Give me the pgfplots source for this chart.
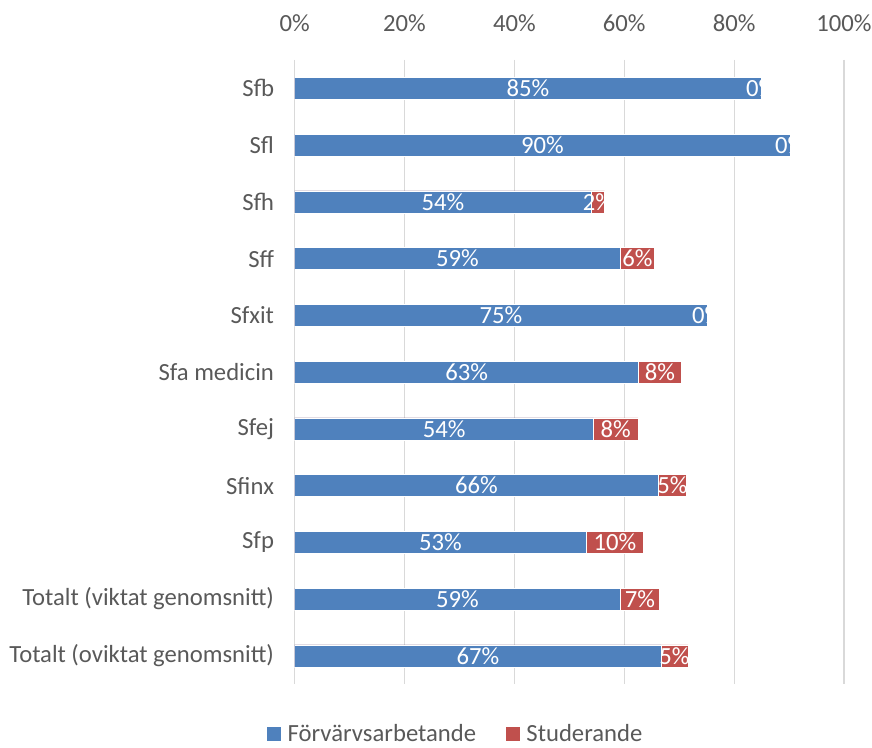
\documentclass[border=0pt]{standalone}
\usepackage{pgfplots}
\pgfplotsset{compat=1.18}
\usepackage{pgfplotstable}
\usepackage{fontspec}
\setmainfont{Carlito}
\definecolor{bl}{HTML}{4F81BD}
\definecolor{rd}{HTML}{C0504D}
\definecolor{gr}{HTML}{D9D9D9}
\definecolor{tx}{HTML}{595959}
\pgfplotstableread{
y b r
0 84.9 0
1 90.2 0
2 54.0 2.4
3 59.3 6.2
4 75.1 0
5 62.6 7.8
6 54.4 8.1
7 66.2 5.1
8 53.1 10.4
9 59.3 7.1
10 66.7 4.9
}\data
\newcommand{\lblfont}{\fontsize{24.7}{29}\selectfont}
\begin{document}
\begin{tikzpicture}
\begin{axis}[
  scale only axis, width=550pt, height=625pt,
  xmin=0, xmax=100, ymin=-0.5, ymax=10.5, y dir=reverse,
  xtick={0,20,40,60,80,100},
  xticklabel={\pgfmathprintnumber{\tick}\%},
  xticklabel pos=upper,
  ytick={0,...,10},
  yticklabels={Sfb,Sfl,Sfh,Sff,Sfxit,Sfa medicin,Sfej,Sfinx,Sfp,Totalt (viktat genomsnitt),Totalt (oviktat genomsnitt)},
  axis line style={draw=none},
  major tick length=0pt,
  xmajorgrids, ymajorgrids=false,
  grid style={gr, line width=1.3pt},
  tick label style={font=\lblfont, text=tx, inner sep=0pt},
  xticklabel style={yshift=28pt},
  yticklabel style={xshift=-20.5pt},
  /pgf/number format/assume math mode=true,
  legend style={at={(0.2934,-0.08)}, anchor=center, draw=none, fill=none,
    font=\lblfont, text=tx, legend columns=2,
    /tikz/every even column/.append style={column sep=28pt}},
  legend cell align=left,
]
\coordinate (sw) at (axis description cs:0,0);
\coordinate (ne) at (axis description cs:1,1);
\addplot[xbar, bar width=22pt, bar shift=0pt, fill=rd, draw=white, line width=0.4pt, forget plot]
  table[x expr=\thisrow{b}+\thisrow{r}, y=y]{\data};
\addplot[xbar, bar width=22pt, bar shift=0pt, fill=bl, draw=white, line width=0.4pt, forget plot]
  table[x=b, y=y]{\data};
\addplot[only marks, mark=*, mark size=0pt, mark options={draw=none, fill=none}, forget plot,
  point meta=explicit,
  nodes near coords={\pgfmathprintnumber[fixed,precision=0]{\pgfplotspointmeta}\%},
  every node near coord/.append style={anchor=center, text=white, font=\lblfont}]
  table[x expr=\thisrow{b}/2, y=y, meta=b]{\data};
\addplot[only marks, mark=*, mark size=0pt, mark options={draw=none, fill=none}, forget plot,
  point meta=explicit,
  nodes near coords={\pgfmathprintnumber[fixed,precision=0]{\pgfplotspointmeta}\%},
  every node near coord/.append style={anchor=center, text=white, font=\lblfont}]
  table[x expr=\thisrow{b}+\thisrow{r}/2, y=y, meta=r]{\data};
\addlegendimage{legend image code/.code={\fill[bl] (0pt,-6.5pt) rectangle (13pt,6.5pt); \path (18pt,0pt);}}
\addlegendentry{Förvärvsarbetande}
\addlegendimage{legend image code/.code={\fill[rd] (0pt,-6.5pt) rectangle (13pt,6.5pt); \path (18pt,0pt);}}
\addlegendentry{Studerande}
\end{axis}
\path ([xshift=-295pt,yshift=-59pt]sw) rectangle ([xshift=28pt,yshift=60pt]ne);
\end{tikzpicture}
\end{document}
